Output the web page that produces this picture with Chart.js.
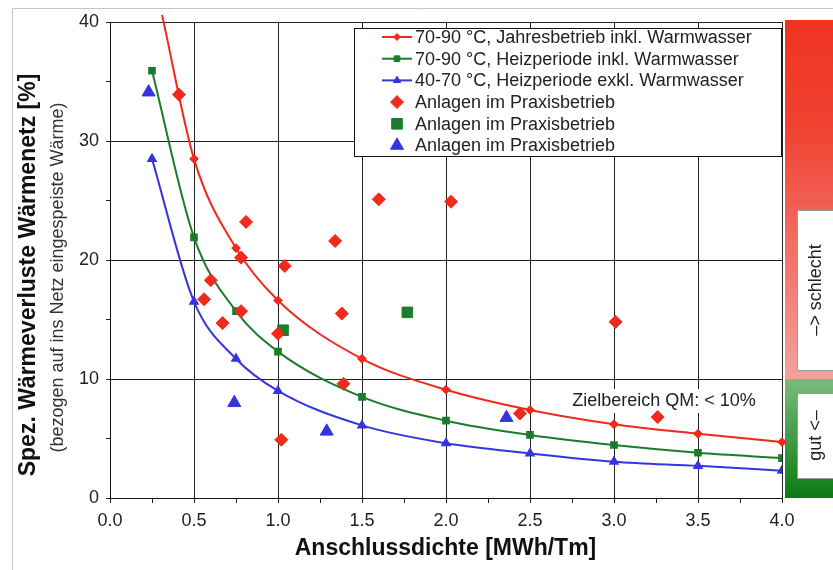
<!DOCTYPE html>
<html><head><meta charset="utf-8">
<script src="https://cdn.jsdelivr.net/npm/chart.js@4.4.1/dist/chart.umd.min.js"></script>
<style>html,body{margin:0;padding:0;background:#fff;}#wrap{width:833px;height:570px;}</style>
</head><body><div id="wrap"><canvas id="c" width="833" height="570"></canvas></div>
<script>
// ---- data ----
const curveX      = [0.25, 0.5, 0.75, 1.0, 1.5, 2.0, 2.5, 3.0, 3.5, 4.0];
const redCurveX   = [0.31, 0.5, 0.75, 1.0, 1.5, 2.0, 2.5, 3.0, 3.5, 4.0];
const redCurveY   = [40.6, 28.5, 21.0, 16.6, 11.7, 9.1, 7.4, 6.2, 5.4, 4.7];
const greenCurveY = [35.9, 21.9, 15.7, 12.3, 8.5, 6.5, 5.3, 4.45, 3.8, 3.35];
const blueCurveY  = [28.5, 16.5, 11.7, 9.0, 6.1, 4.6, 3.75, 3.05, 2.7, 2.3];

const redPtsX   = [0.41, 0.81, 0.78, 1.04, 1.34, 0.60, 0.56, 0.67, 0.78, 1.00, 1.38, 1.39, 1.02, 1.60, 2.03, 3.01, 2.44, 3.26];
const redPtsY   = [33.9, 23.2, 20.2, 19.5, 21.6, 18.3, 16.7, 14.7, 15.7, 13.8, 15.5, 9.6, 4.9, 25.1, 24.9, 14.8, 7.1, 6.8];
const greenPtsX = [1.03, 1.77];
const greenPtsY = [14.1, 15.6];
const bluePtsX  = [0.23, 0.74, 1.29, 2.36];
const bluePtsY  = [34.1, 8.0, 5.6, 6.75];

const legendLabels = [
  '70-90 °C, Jahresbetrieb inkl. Warmwasser',
  '70-90 °C, Heizperiode inkl. Warmwasser',
  '40-70 °C, Heizperiode exkl. Warmwasser',
  'Anlagen im Praxisbetrieb',
  'Anlagen im Praxisbetrieb',
  'Anlagen im Praxisbetrieb'
];
const xTitle = 'Anschlussdichte [MWh/Tm]';
const yTitle = 'Spez. Wärmeverluste Wärmenetz [%]';
const ySubTitle = '(bezogen auf ins Netz eingespeiste Wärme)';
const targetText = 'Zielbereich QM: < 10%';
const badText = '–> schlecht';
const goodText = 'gut <–';

// ---- styling ----
const RED = '#f02a1c', GREEN = '#1b7d2c', BLUE = '#3535e0';
const FONT = "'Liberation Sans', Arial, Helvetica, sans-serif";
const zip = (xs, ys) => xs.map((x, i) => ({x, y: ys[i]}));

const decor = {
  id: 'decor',
  beforeDraw(chart) {
    const ctx = chart.ctx;
    const a = chart.chartArea;
    const ys = chart.scales.y;
    ctx.save();
    ctx.fillStyle = '#fff';
    ctx.fillRect(0, 0, chart.width, chart.height);
    // outer frame
    ctx.strokeStyle = '#c4c4c4'; ctx.lineWidth = 1;
    ctx.beginPath(); ctx.moveTo(12.5, 570); ctx.lineTo(12.5, 8.5); ctx.lineTo(833, 8.5); ctx.stroke();
    // rating bar
    const bx = a.right + 3, bw = 833 - bx;
    const y10 = ys.getPixelForValue(10);
    let g = ctx.createLinearGradient(0, a.top - 2, 0, y10);
    g.addColorStop(0, '#ef3320'); g.addColorStop(0.3, '#f04232'); g.addColorStop(1, '#f3a29c');
    ctx.fillStyle = g; ctx.fillRect(bx, a.top - 2, bw, y10 - a.top + 2);
    g = ctx.createLinearGradient(0, y10, 0, a.bottom);
    g.addColorStop(0, '#7cba7c'); g.addColorStop(1, '#0a7a12');
    ctx.fillStyle = g; ctx.fillRect(bx, y10, bw, a.bottom - y10);
    // labels boxes
    ctx.fillStyle = '#fff'; ctx.strokeStyle = '#9a9a9a';
    ctx.fillRect(797, 210, 40, 160); ctx.strokeRect(797.5, 210.5, 40, 160);
    ctx.fillRect(797, 393, 40, 85); ctx.strokeRect(797.5, 393.5, 40, 85);
    ctx.fillStyle = '#222'; ctx.font = '18px ' + FONT;
    ctx.textAlign = 'center'; ctx.textBaseline = 'middle';
    ctx.save(); ctx.translate(816, 290); ctx.rotate(-Math.PI / 2); ctx.fillText(badText, 0, 0); ctx.restore();
    ctx.save(); ctx.translate(816, 435.5); ctx.rotate(-Math.PI / 2); ctx.fillText(goodText, 0, 0); ctx.restore();
    // axis titles
    ctx.fillStyle = '#111';
    ctx.font = 'bold 23px ' + FONT;
    ctx.save(); ctx.translate(29, 275); ctx.rotate(-Math.PI / 2); ctx.fillText(yTitle, 0, 0); ctx.restore();
    ctx.fillStyle = '#333';
    ctx.font = '18px ' + FONT;
    ctx.save(); ctx.translate(58, 277.5); ctx.rotate(-Math.PI / 2); ctx.fillText(ySubTitle, 0, 0); ctx.restore();
    ctx.fillStyle = '#111';
    ctx.font = 'bold 23px ' + FONT;
    ctx.fillText(xTitle, 445.5, 549);
    ctx.restore();
  },
  beforeDatasetsDraw(chart) {
    const ctx = chart.ctx;
    ctx.save();
    ctx.font = '18px ' + FONT;
    const w = ctx.measureText(targetText).width;
    const cx = 664, cy = 401;
    ctx.fillStyle = '#fff';
    ctx.fillRect(cx - w / 2 - 3, cy - 12, w + 6, 24);
    ctx.fillStyle = '#222'; ctx.textAlign = 'center'; ctx.textBaseline = 'middle';
    ctx.fillText(targetText, cx, cy);
    ctx.restore();
  },
  afterDraw(chart) {
    const ctx = chart.ctx;
    ctx.save();
    ctx.fillStyle = '#fff'; ctx.strokeStyle = '#111'; ctx.lineWidth = 1;
    ctx.fillRect(354, 28, 427, 128); ctx.strokeRect(354.5, 28.5, 427, 128);
    const cols = [RED, GREEN, BLUE];
    const styles = ['rectRot', 'rect', 'triangle'];
    const smallR = [3.5, 4, 4.2], bigR = [6.5, 7.5, 7.5];
    ctx.font = '18px ' + FONT; ctx.textBaseline = 'middle'; ctx.textAlign = 'left';
    for (let i = 0; i < 6; i++) {
      const y = 37 + i * 21.7;
      const k = i % 3;
      if (i < 3) {
        ctx.strokeStyle = cols[k]; ctx.lineWidth = 2;
        ctx.beginPath(); ctx.moveTo(382, y); ctx.lineTo(412, y); ctx.stroke();
        ctx.fillStyle = cols[k]; ctx.strokeStyle = cols[k]; ctx.lineWidth = 1;
        Chart.helpers.drawPoint(ctx, {pointStyle: styles[k], radius: smallR[k], borderWidth: 1}, 397, y);
      } else {
        ctx.fillStyle = cols[k]; ctx.strokeStyle = cols[k]; ctx.lineWidth = 1;
        Chart.helpers.drawPoint(ctx, {pointStyle: styles[k], radius: bigR[k], borderWidth: 1}, 397, y);
      }
      ctx.fillStyle = '#222';
      ctx.fillText(legendLabels[i], 415, y + 1);
    }
    ctx.restore();
  }
};

const isMajor = (v, step) => Math.abs(v / step - Math.round(v / step)) < 1e-6;

new Chart(document.getElementById('c'), {
  type: 'scatter',
  data: {
    datasets: [
      {data: zip(redPtsX, redPtsY), pointStyle: 'rectRot', pointRadius: 6.5, backgroundColor: RED, borderColor: RED, borderWidth: 1, order: 0},
      {data: zip(greenPtsX, greenPtsY), pointStyle: 'rect', pointRadius: 7.5, backgroundColor: GREEN, borderColor: GREEN, borderWidth: 1, order: 0},
      {data: zip(bluePtsX, bluePtsY), pointStyle: 'triangle', pointRadius: 7.5, backgroundColor: BLUE, borderColor: BLUE, borderWidth: 1, order: 0},
      {data: zip(redCurveX, redCurveY), showLine: true, cubicInterpolationMode: 'monotone', borderColor: RED, backgroundColor: RED, borderWidth: 2,
       pointStyle: 'rectRot', pointRadius: c => c.dataIndex === 0 ? 0 : 3.5, clip: false, order: 1},
      {data: zip(curveX, greenCurveY), showLine: true, cubicInterpolationMode: 'monotone', borderColor: GREEN, backgroundColor: GREEN, borderWidth: 2,
       pointStyle: 'rect', pointRadius: 4, order: 1},
      {data: zip(curveX, blueCurveY), showLine: true, cubicInterpolationMode: 'monotone', borderColor: BLUE, backgroundColor: BLUE, borderWidth: 2,
       pointStyle: 'triangle', pointRadius: 4.2, order: 1}
    ]
  },
  options: {
    responsive: false,
    animation: false,
    devicePixelRatio: 1,
    layout: {padding: {top: 22, right: 51, left: 0, bottom: 0}},
    plugins: {legend: {display: false}, tooltip: {enabled: false}},
    font: {family: FONT},
    scales: {
      x: {
        type: 'linear', min: 0, max: 4,
        afterFit: s => { s.height = 72; },
        ticks: {stepSize: 0.25, autoSkip: false, maxRotation: 0, padding: 7, color: '#222',
                font: {size: 18, family: FONT},
                callback: v => isMajor(v, 0.5) ? v.toFixed(1) : ''},
        grid: {color: c => (c.tick && isMajor(c.tick.value, 0.5)) ? '#222' : 'rgba(0,0,0,0)', tickColor: '#222', tickLength: 5, lineWidth: 1},
        border: {display: true, color: '#111', width: 1}
      },
      y: {
        type: 'linear', min: 0, max: 40,
        afterFit: s => { s.width = 110; },
        ticks: {stepSize: 5, autoSkip: false, padding: 7, color: '#222',
                font: {size: 18, family: FONT},
                callback: v => isMajor(v, 10) ? String(v) : ''},
        grid: {color: c => (c.tick && isMajor(c.tick.value, 10)) ? '#222' : 'rgba(0,0,0,0)', tickColor: '#222', tickLength: 4, lineWidth: 1},
        border: {display: true, color: '#111', width: 1}
      }
    }
  },
  plugins: [decor]
});
</script></body></html>
